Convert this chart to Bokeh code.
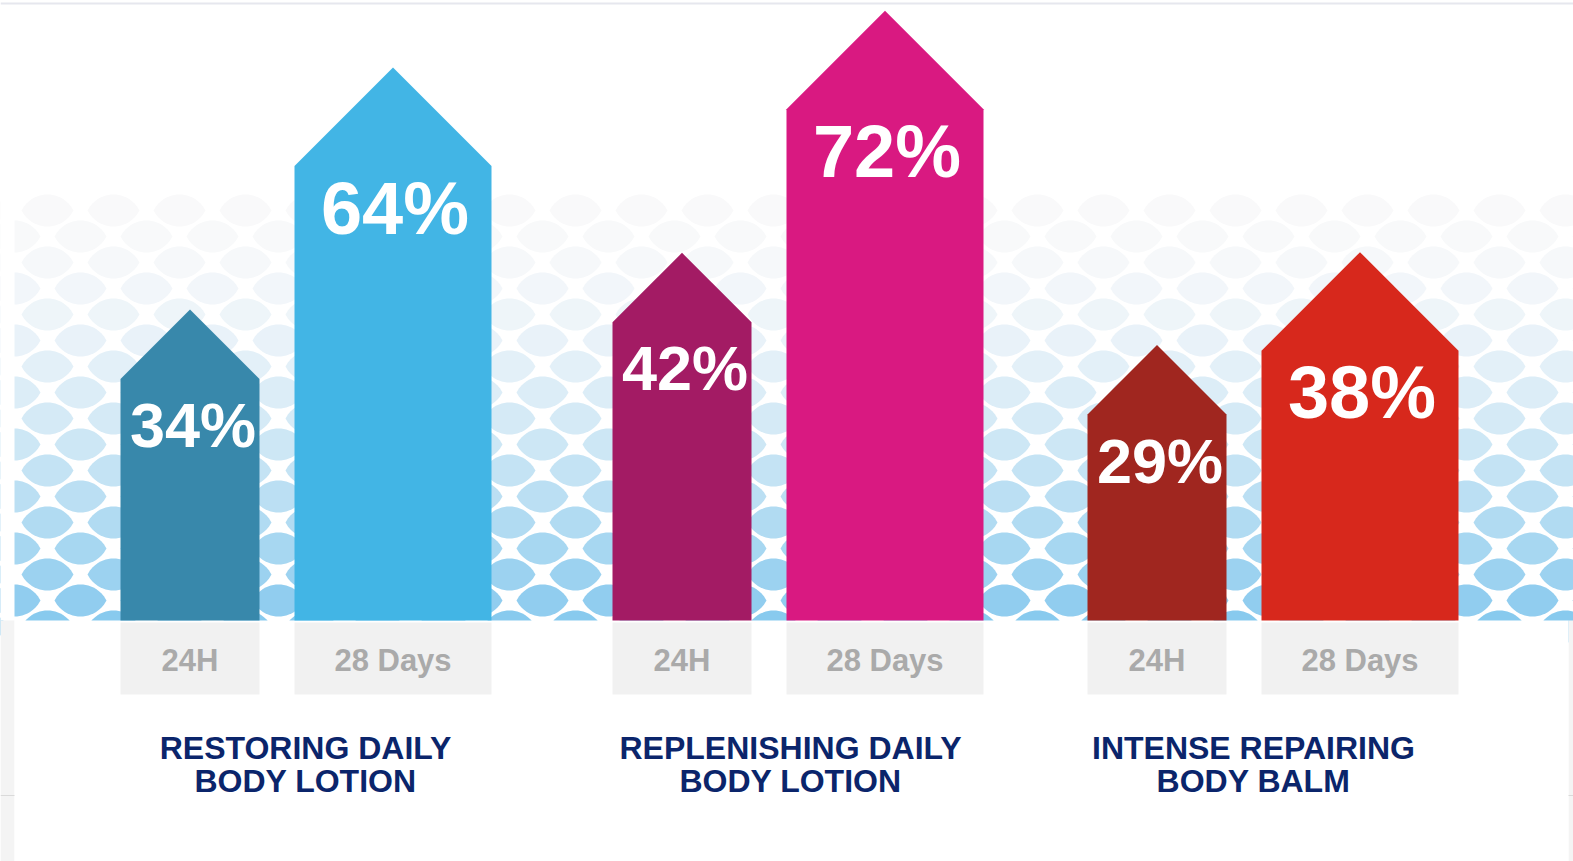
import numpy as np
from bokeh.plotting import figure
from bokeh.models import Range1d
from bokeh.embed import file_html
from bokeh.resources import INLINE
from bokeh.core.properties import value

# ---------------- data ----------------
products = ["RESTORING DAILY|BODY LOTION",
            "REPLENISHING DAILY|BODY LOTION",
            "INTENSE REPAIRING|BODY BALM"]
periods = ["24H", "28 Days"]
val_24h = [34, 42, 29]
val_28d = [64, 72, 38]
colors_24h = ["#3888ab", "#a31b64", "#a0261f"]
colors_28d = ["#42b5e5", "#d91981", "#d7281c"]

# ---------------- layout ----------------
W, H = 1573, 861
OFF = 0                 # page offset of the figure
BASE = 620              # page pixel row of the bars' baseline
PX = 7.1                # pixels per percentage point
GROUP_LEFT = [120, 612, 1087]
TITLE_X = [305, 790, 1253]
W24, W28, GAP = 139, 197, 35


def fy(pix):
    """page pixel row -> data units"""
    return (BASE - pix) / PX


p = figure(width=W, height=H, x_range=Range1d(OFF, OFF + W),
           y_range=Range1d(fy(OFF + H), fy(OFF)),
           output_backend="svg", toolbar_location=None, min_border=0,
           x_axis_location=None, y_axis_location=None)
p.grid.visible = False
p.outline_line_color = None
p.background_fill_color = "white"
p.border_fill_color = "white"

# ---------------- decorative fish-scale background ----------------
P, RS, a, b = 66, 26, 26, 16
R = (a * a + b * b) / (2 * b)
xx = np.linspace(-a, a, 21)
up = np.sqrt(R * R - xx ** 2) - (R - b)
lens_x = np.concatenate([xx, xx[::-1]])
lens_y = np.concatenate([up, -up[::-1]])
blue = np.array([0x88, 0xca, 0xee])
pale = np.array([250, 250, 251])
pxs, pys, pcs = [], [], []
r = 0
cy = BASE + 6
while cy > 190:
    t = np.clip((cy - 205) / (BASE - 205), 0, 1) ** 1.7
    c = (pale * (1 - t) + blue * t).astype(int)
    col = "#%02x%02x%02x" % tuple(c)
    offx = (r % 2) * P / 2
    for cx in np.arange(14 + offx - P / 2, 1600, P):
        pxs.append(list(cx + lens_x))
        pys.append([fy(cy + v) for v in lens_y])
        pcs.append(col)
    r += 1
    cy -= RS
p.patches(pxs, pys, fill_color=pcs, line_color=None)
# white margin left of the pattern
p.quad(left=0, right=14, top=fy(150), bottom=fy(BASE), fill_color="white", line_color=None)

# ---------------- lower white panel + page chrome ----------------
p.quad(left=0, right=14, top=fy(BASE), bottom=fy(H), fill_color="#f4f4f4", line_color=None)
p.quad(left=1568, right=W, top=fy(BASE), bottom=fy(H), fill_color="#f4f4f4", line_color=None)
p.quad(left=14, right=1568, top=fy(BASE), bottom=fy(H), fill_color="white", line_color=None)
p.segment(x0=[0, 1568], x1=[14, W], y0=[fy(795)] * 2, y1=[fy(795)] * 2, line_color="#dadada", line_width=1)
p.segment(x0=0, x1=W, y0=fy(3), y1=fy(3), line_color="#e6e7ee", line_width=2)

# ---------------- bars (house shapes) ----------------
def house(x0, w, v):
    h = (w / 2) / PX
    return [x0, x0, x0 + w / 2, x0 + w, x0 + w], [0, v, v + h, v, 0]


hx, hy, hc = [], [], []
box_l, box_r = [], []
lab_x, lab_y, lab_t = [], [], []
big_x, big_y, big_t, sm_x, sm_y, sm_t = [], [], [], [], [], []
for g in range(3):
    x24 = GROUP_LEFT[g]
    x28 = x24 + W24 + GAP
    for x0, w, v, c, per, big in [(x24, W24, val_24h[g], colors_24h[g], periods[0], False),
                                  (x28, W28, val_28d[g], colors_28d[g], periods[1], True)]:
        xs_, ys_ = house(x0, w, v)
        hx.append(xs_); hy.append(ys_); hc.append(c)
        box_l.append(x0); box_r.append(x0 + w)
        lab_x.append(x0 + w / 2); lab_y.append(fy(660)); lab_t.append(per)
        if big:
            big_x.append(x0 + w / 2 + 2); big_y.append(v - 42 / PX); big_t.append(f"{v}%")
        else:
            sm_x.append(x0 + w / 2 + 3); sm_y.append(v - 46 / PX); sm_t.append(f"{v}%")

p.patches(hx, hy, fill_color=hc, line_color=None)
p.quad(left=box_l, right=box_r, top=fy(622), bottom=fy(694), fill_color="#f1f1f1", line_color=None)

FONT = value("Liberation Sans")
p.text(lab_x, lab_y, text=lab_t, text_font=FONT, text_font_style="bold",
       text_font_size="31px", text_color="#aaaaaa", text_align="center", text_baseline="middle")
p.text(big_x, big_y, text=big_t, text_font=FONT, text_font_style="bold",
       text_font_size="74px", text_color="white", text_align="center", text_baseline="middle")
p.text(sm_x, sm_y, text=sm_t, text_font=FONT, text_font_style="bold",
       text_font_size="63px", text_color="white", text_align="center", text_baseline="middle")

l1 = [s.split("|")[0] for s in products]
l2 = [s.split("|")[1] for s in products]
p.text(TITLE_X, [fy(747)] * 3, text=l1, text_font=FONT, text_font_style="bold",
       text_font_size="32px", text_color="#0b256b", text_align="center", text_baseline="middle")
p.text(TITLE_X, [fy(780)] * 3, text=l2, text_font=FONT, text_font_style="bold",
       text_font_size="32px", text_color="#0b256b", text_align="center", text_baseline="middle")

open("out.html", "w").write(file_html(p, INLINE))
